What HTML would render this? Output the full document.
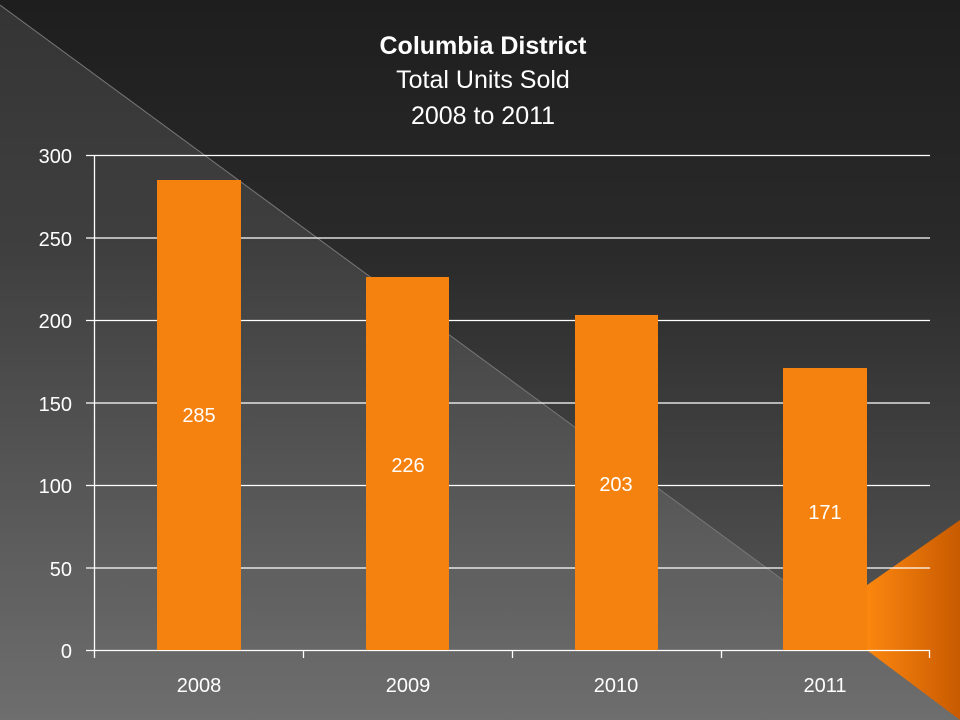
<!DOCTYPE html>
<html><head><meta charset="utf-8"><style>
body{margin:0;width:960px;height:720px;overflow:hidden;}
svg{display:block;font-family:"Liberation Sans",sans-serif;}
</style></head><body>
<svg width="960" height="720" viewBox="0 0 960 720">
<defs>
<linearGradient id="bg" x1="0" y1="0" x2="0" y2="1">
<stop offset="0" stop-color="#1e1e1e"/><stop offset="0.35" stop-color="#2a2a2a"/><stop offset="1" stop-color="#5e5e5e"/>
</linearGradient>
<linearGradient id="or" x1="0" y1="0" x2="1" y2="0">
<stop offset="0" stop-color="#ff8a10"/><stop offset="1" stop-color="#c85a00"/>
</linearGradient>
</defs>
<rect width="960" height="720" fill="url(#bg)"/>
<polygon points="0,5 960,710 960,720 0,720" fill="#ffffff" fill-opacity="0.1"/>
<line x1="0" y1="5" x2="960" y2="710" stroke="#777" stroke-width="1"/>
<polygon points="860,590 960,520 960,720 860,645" fill="url(#or)"/>
<g fill="#fff" text-anchor="middle">
<text x="483" y="54" font-size="25" font-weight="bold">Columbia District</text>
<text x="483" y="88" font-size="25">Total Units Sold</text>
<text x="483" y="124" font-size="25">2008 to 2011</text>
</g>
<g stroke="#fff" stroke-width="1.3">
<line x1="86" y1="155.5" x2="930" y2="155.5"/>
<line x1="86" y1="238" x2="930" y2="238"/>
<line x1="86" y1="320.5" x2="930" y2="320.5"/>
<line x1="86" y1="403" x2="930" y2="403"/>
<line x1="86" y1="485.5" x2="930" y2="485.5"/>
<line x1="86" y1="568" x2="930" y2="568"/>
<line x1="86" y1="650.5" x2="930" y2="650.5"/>
<line x1="94.5" y1="155" x2="94.5" y2="658"/>
<line x1="303.5" y1="650" x2="303.5" y2="658"/>
<line x1="512.5" y1="650" x2="512.5" y2="658"/>
<line x1="721.5" y1="650" x2="721.5" y2="658"/>
<line x1="929.5" y1="650" x2="929.5" y2="658"/>
</g>
<g fill="#f5820f">
<rect x="157" y="180" width="84" height="470"/>
<rect x="366" y="277" width="83" height="373"/>
<rect x="575" y="315" width="83" height="335"/>
<rect x="783" y="368" width="84" height="282"/>
</g>
<g fill="#fff" font-size="20" text-anchor="end">
<text x="72" y="163">300</text>
<text x="72" y="246">250</text>
<text x="72" y="328">200</text>
<text x="72" y="411">150</text>
<text x="72" y="493">100</text>
<text x="72" y="576">50</text>
<text x="72" y="658">0</text>
</g>
<g fill="#fff" font-size="20" text-anchor="middle">
<text x="199" y="692">2008</text>
<text x="408" y="692">2009</text>
<text x="616" y="692">2010</text>
<text x="825" y="692">2011</text>
<text x="199" y="422">285</text>
<text x="408" y="472">226</text>
<text x="616" y="491">203</text>
<text x="825" y="519">171</text>
</g>
</svg>
</body></html>
